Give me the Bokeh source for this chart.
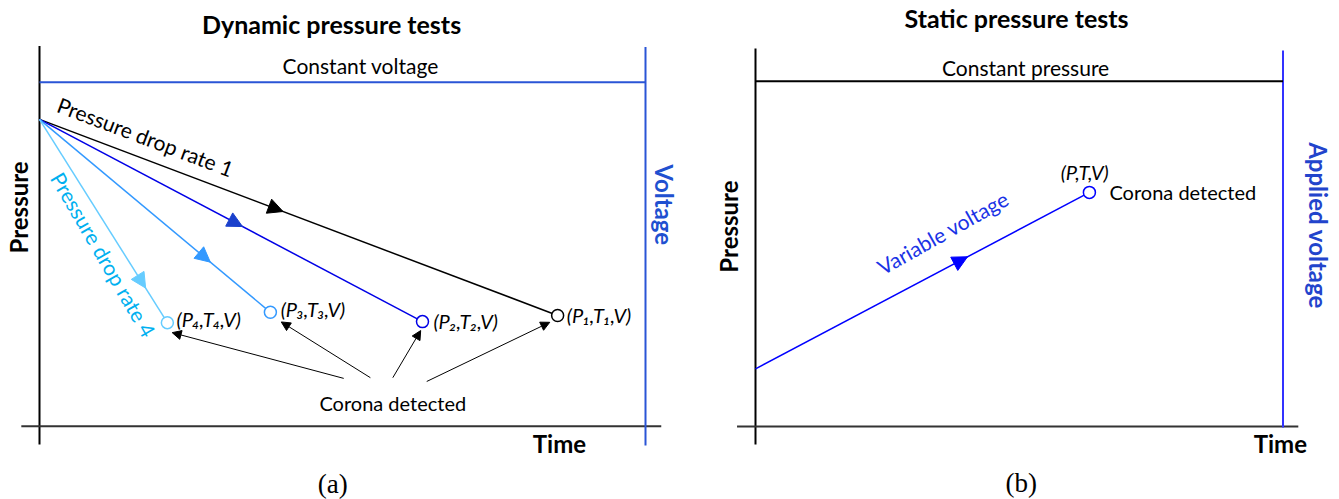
import math
from bokeh.plotting import figure
from bokeh.models import Range1d, Arrow, NormalHead
from bokeh.layouts import row
from bokeh.core.properties import value
from bokeh.embed import file_html
from bokeh.resources import INLINE

FONT = "Lato"
SERIF = "Liberation Serif"
H = 499
TOP = 0
WA = 692          # width of panel (a)
WB = 1339 - WA    # width of panel (b)

# ---------------- data: panel (a) dynamic pressure tests ----------------
a_start_t = 0.0          # time units (0..10 across the frame)
a_start_p = 8.92         # pressure units (0..10 up the frame)
a_end_t = [8.55, 6.32, 3.81, 2.11]
a_end_p = [3.22, 3.04, 3.31, 3.01]
a_labels = ["(P\u2081,T\u2081,V)", "(P\u2082,T\u2082,V)", "(P\u2083,T\u2083,V)", "(P\u2084,T\u2084,V)"]
a_arrow_frac = [0.47, 0.53, 0.74, 0.83]
a_corona_from_t = [6.39, 5.83, 5.46, 5.02]
a_corona_from_p = [1.30, 1.41, 1.41, 1.39]
a_corona_to_t = [8.42, 6.29, 3.99, 2.19]
a_corona_to_p = [3.02, 2.78, 3.03, 2.72]

# ---------------- data: panel (b) static pressure tests -----------------
b_volt_t = [0.0, 6.33]
b_volt_p = [1.67, 6.78]
b_arrow_frac = 0.635

# styles
a_line_colors = ["black", "#0000e6", "#3399ff", "#66ccff"]
a_head_colors = ["black", "#1a40cc", "#3399ff", "#66ccff"]
AXIS_BLUE = "#2a55d6"
B_BLUE = "#3333ff"


def make_panel(width, left_px, x0px, x10px, y0px, y10px):
    sx = (x10px - x0px) / 10.0
    sy = (y0px - y10px) / 10.0
    xr = Range1d((left_px - x0px) / sx, (left_px + width - x0px) / sx)
    yr = Range1d((y0px - (TOP + H)) / sy, (y0px - TOP) / sy)
    p = figure(width=width, height=H, x_range=xr, y_range=yr,
               output_backend="svg", toolbar_location=None, min_border=0)
    p.xaxis.visible = False
    p.yaxis.visible = False
    p.xgrid.visible = False
    p.ygrid.visible = False
    p.outline_line_color = None
    p.background_fill_color = "white"
    p.border_fill_color = "white"
    return p, sx, sy


def txt(p, x, y, s, size, color="black", style="normal", angle=0.0,
        align="center", baseline="middle", font=FONT):
    p.text(x=[x], y=[y], text=[s], angle=angle, text_font=value(font),
           text_font_size=f"{size}px", text_color=color, text_font_style=style,
           text_align=align, text_baseline=baseline)


def screen_angle(dt, dp, sx, sy):
    return math.atan2(dp * sy, dt * sx)


# ======================= panel (a) =======================
pa, sxa, sya = make_panel(WA, 0, 39, 645, 425.7, 81.7)

# frame lines
pa.line([0, 0], [11.05, -0.53], line_color="black", line_width=2)
pa.line([-0.30, 10.26], [0, 0], line_color="#333333", line_width=2)
pa.line([10, 10], [11.02, -0.56], line_color=AXIS_BLUE, line_width=2)
pa.line([0, 10], [10, 10], line_color=AXIS_BLUE, line_width=2)

# pressure drop lines
for i in range(4):
    pa.line([a_start_t, a_end_t[i]], [a_start_p, a_end_p[i]],
            line_color=a_line_colors[i], line_width=1.5)
    f = a_arrow_frac[i]
    xt = a_start_t + f * (a_end_t[i] - a_start_t)
    yt = a_start_p + f * (a_end_p[i] - a_start_p)
    xs = a_start_t + (f - 0.05) * (a_end_t[i] - a_start_t)
    ys = a_start_p + (f - 0.05) * (a_end_p[i] - a_start_p)
    pa.add_layout(Arrow(end=NormalHead(size=15, fill_color=a_head_colors[i],
                                       line_color=a_head_colors[i], line_width=1),
                        x_start=xs, y_start=ys, x_end=xt, y_end=yt, line_alpha=0))

pa.scatter(a_end_t, a_end_p, marker="circle", size=12, fill_color="white",
           line_color=a_line_colors, line_width=1.5)

lab_dx = [0.15, 0.18, 0.17, 0.15]
lab_dp = [0.0, 0.03, 0.11, 0.12]
for i in range(4):
    txt(pa, a_end_t[i] + lab_dx[i], a_end_p[i] + lab_dp[i], a_labels[i], 20,
        style="italic", align="left")

# corona arrows
for i in range(4):
    pa.add_layout(Arrow(end=NormalHead(size=9, fill_color="black", line_color="black", line_width=1),
                        x_start=a_corona_from_t[i], y_start=a_corona_from_p[i],
                        x_end=a_corona_to_t[i], y_end=a_corona_to_p[i],
                        line_color="black", line_width=1))

txt(pa, 5.83, 0.68, "Corona detected", 20)

ang1 = screen_angle(a_end_t[0] - a_start_t, a_end_p[0] - a_start_p, sxa, sya)
txt(pa, 1.75, 8.42, "Pressure drop rate 1", 21, angle=ang1)
ang4 = screen_angle(a_end_t[3] - a_start_t, a_end_p[3] - a_start_p, sxa, sya) - math.radians(2)
txt(pa, 1.06, 4.99, "Pressure drop rate 4", 21, color="#00b0f0", angle=ang4)

txt(pa, 5.30, 10.49, "Constant voltage", 21)
txt(pa, 4.82, 11.68, "Dynamic pressure tests", 25, style="bold")
txt(pa, -0.35, 6.36, "Pressure", 24, style="bold", angle=math.pi / 2)
txt(pa, 10.31, 6.44, "Voltage", 24, color="#2050d0", style="bold", angle=-math.pi / 2)
txt(pa, 8.58, -0.50, "Time", 24, style="bold")
txt(pa, 4.84, -1.67, "(a)", 27, font=SERIF)

# ======================= panel (b) =======================
pb, sxb, syb = make_panel(WB, WA, 755, 1282.5, 426, 80.7)

pb.line([0, 0], [10.95, -0.52], line_color="black", line_width=2)
pb.line([-0.35, 10.29], [0, 0], line_color="#333333", line_width=2)
pb.line([10, 10], [10.89, -0.03], line_color=B_BLUE, line_width=2)
pb.line([0, 10], [10, 10], line_color="black", line_width=2)

pb.line(b_volt_t, b_volt_p, line_color="#0000ff", line_width=1.5)
f = b_arrow_frac
xt = b_volt_t[0] + f * (b_volt_t[1] - b_volt_t[0])
yt = b_volt_p[0] + f * (b_volt_p[1] - b_volt_p[0])
xs = b_volt_t[0] + (f - 0.05) * (b_volt_t[1] - b_volt_t[0])
ys = b_volt_p[0] + (f - 0.05) * (b_volt_p[1] - b_volt_p[0])
pb.add_layout(Arrow(end=NormalHead(size=15, fill_color="#0000ff", line_color="#0000ff", line_width=1),
                    x_start=xs, y_start=ys, x_end=xt, y_end=yt, line_alpha=0))
pb.scatter([b_volt_t[1]], [b_volt_p[1]], marker="circle", size=12, fill_color="white",
           line_color="#0000ff", line_width=1.5)

txt(pb, 6.24, 7.36, "(P,T,V)", 20, style="italic")
txt(pb, 6.71, 6.78, "Corona detected", 20, align="left")
angv = screen_angle(b_volt_t[1] - b_volt_t[0], b_volt_p[1] - b_volt_p[0], sxb, syb) + math.radians(1.5)
txt(pb, 3.55, 5.62, "Variable voltage", 21, color="#1a33e6", angle=angv)

txt(pb, 5.12, 10.40, "Constant pressure", 21)
txt(pb, 4.95, 11.82, "Static pressure tests", 25, style="bold")
txt(pb, -0.51, 5.79, "Pressure", 24, style="bold", angle=math.pi / 2)
txt(pb, 10.67, 5.82, "Applied voltage", 24, color="#2244cc", style="bold", angle=-math.pi / 2)
txt(pb, 9.95, -0.49, "Time", 24, style="bold")
txt(pb, 5.04, -1.65, "(b)", 27, font=SERIF)

layout = row(pa, pb)
open("out.html", "w").write(file_html(layout, INLINE))
